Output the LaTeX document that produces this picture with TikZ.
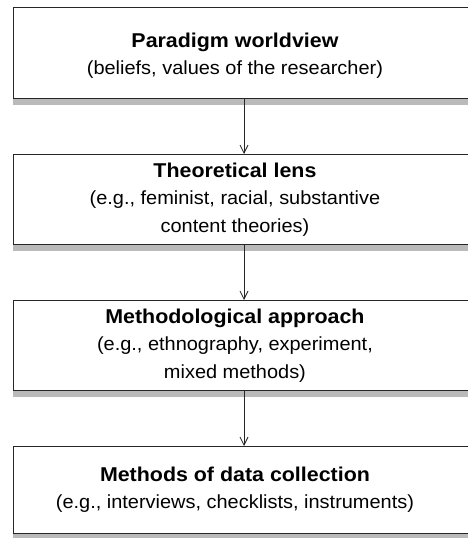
\documentclass[tikz,border=0pt]{standalone}
\usepackage{fontspec}
\setmainfont{Liberation Sans}
\newfontfamily\regfont{Liberation Sans}[FakeStretch=1.05]
\newfontfamily\titlefont{Liberation Sans}[FakeStretch=1.07]
\usetikzlibrary{arrows.meta}
\begin{document}
\begin{tikzpicture}[x=1pt,y=1pt,
  box/.style={draw=black!85, line width=0.9pt, fill=white, minimum width=467pt, inner sep=0pt, anchor=north west},
  txt/.style={align=center, font=\regfont\fontsize{19}{27.5}\selectfont, inner sep=0pt},
  flow/.style={-{Straight Barb[length=8pt,width=8pt,line width=0.8pt]}, line width=0.8pt, black!85},
  shade/.style={fill=black!27}]
\useasboundingbox (0,0) rectangle (468,538);
\clip (0,0) rectangle (468,538);
\coordinate (ax) at (244,0);
\node[box, minimum height=91pt] (b1) at (13,531) {};
\node[box, minimum height=90pt] (b2) at (13,384) {};
\node[box, minimum height=90pt] (b3) at (13,238) {};
\node[box, minimum height=87pt] (b4) at (13,92) {};
\foreach \b in {b1,b2,b3,b4}{
  \fill[shade] ([yshift=-0.5pt]\b.south west) rectangle ([yshift=-6pt]\b.south east);
}
\node[txt] (t1) at ([xshift=-12pt,yshift=-3pt]b1.center) {{\titlefont\bfseries\fontsize{20}{27.5}\selectfont Paradigm worldview}\\(beliefs, values of the researcher)};
\node[txt] (t2) at ([xshift=-12pt]b2.center) {{\titlefont\bfseries\fontsize{20}{27.5}\selectfont Theoretical lens}\\(e.g., feminist, racial, substantive\\content theories)};
\node[txt] (t3) at ([xshift=-12pt]b3.center) {{\titlefont\bfseries\fontsize{20}{27.5}\selectfont Methodological approach}\\(e.g., ethnography, experiment,\\mixed methods)};
\node[txt] (t4) at ([xshift=-12pt]b4.center) {{\titlefont\bfseries\fontsize{20}{27.5}\selectfont Methods of data collection}\\(e.g., interviews, checklists, instruments)};
\draw[flow] (b1.south -| ax) -- (b2.north -| ax);
\draw[flow] (b2.south -| ax) -- (b3.north -| ax);
\draw[flow] (b3.south -| ax) -- (b4.north -| ax);
\end{tikzpicture}
\end{document}
